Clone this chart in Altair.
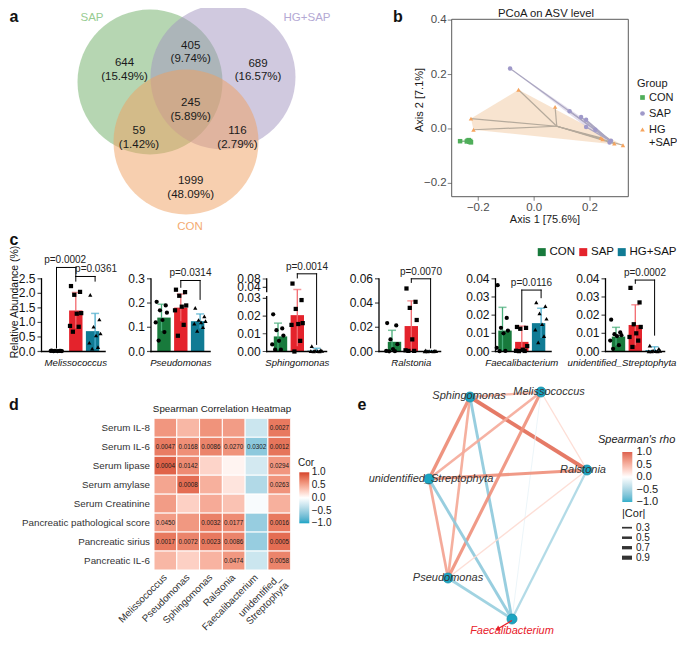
import altair as alt
import pandas as pd

M = 8
W, H = 669, 629
FONT = "Liberation Sans"

# ---------------- panel a : Venn ----------------
venn_sets = ["SAP", "HG+SAP", "CON"]
venn_cx = [150, 223, 186]
venn_cy = [82, 77, 142]
venn_fill = ["#6dad65", "#a193bf", "#ef9f5f"]
venn_label_color = ["#98cc92", "#b4a9d4", "#f4ab72"]
venn_label_x = [92, 307, 190]
venn_label_y = [18, 18, 227]
venn_counts = [644, 405, 689, 245, 59, 116, 1999]
venn_pct = ["15.49%", "9.74%", "16.57%", "5.89%", "1.42%", "2.79%", "48.09%"]
venn_count_x = [124.5, 190.7, 258, 190.7, 139, 237.5, 190.7]
venn_count_y = [63.3, 45.5, 63.7, 103, 131.3, 131.3, 181]

# ---------------- panel b : PCoA ----------------
pc_groups = ["CON", "SAP", "HG+SAP"]
pc_colors = ["#4fae5a", "#9f99c9", "#f6a45e"]
pc_shapes = ["square", "circle", "triangle-up"]
pc_line_colors = ["#6aa870", "#aaa6c0", "#b5aa9c"]
con_x = [-0.265, -0.238, -0.232, -0.229, -0.226, -0.234, -0.241, -0.228]
con_y = [-0.045, -0.043, -0.047, -0.044, -0.049, -0.041, -0.046, -0.048]
sap_x = [-0.086, 0.127, 0.168, 0.186, 0.186, 0.219, 0.275, 0.270]
sap_y = [0.222, 0.065, 0.044, 0.034, 0.007, -0.003, -0.043, -0.050]
hg_x = [-0.056, 0.075, -0.226, -0.217, 0.239, 0.287, 0.318, 0.245]
hg_y = [0.144, 0.081, 0.038, -0.003, -0.033, -0.054, -0.060, -0.038]
cen_x = [-0.236, 0.275, 0.081]
cen_y = [-0.045, -0.045, 0.010]
hg_hull_x = [-0.226, -0.056, 0.318, -0.217]
hg_hull_y = [0.038, 0.144, -0.060, -0.003]
sap_hull_x = [-0.086, 0.168, 0.186, 0.275, 0.270, 0.186]
sap_hull_y = [0.222, 0.044, 0.034, -0.043, -0.050, 0.007]
bx_ticks = [-0.2, 0.0, 0.2]
bx_labels = ["\u22120.2", "0.0", "0.2"]
by_ticks = [-0.2, 0.0, 0.2, 0.4]
by_labels = ["\u22120.2", "0.0", "0.2", "0.4"]

# ---------------- panel c : bar charts ----------------
groups = ["CON", "SAP", "HG+SAP"]
bar_colors = ["#187a3c", "#e4232c", "#107b94"]
err_colors = ["#47ad79", "#f36a6f", "#4aaccc"]
dot_shapes = ["circle", "square", "triangle-up"]
genera = ["Melissococcus", "Pseudomonas", "Sphingomonas", "Ralstonia",
          "Faecalibacterium", "unidentified_Streptophyta"]
xlabel_idx = [1, 1, 1, 1, 1, 0.31]
bar_axis_x = [41.5, 151, 266.7, 379, 495.5, 605.5]
bar_c0 = [56.5, 161.5, 278, 392, 502.5, 616]
STEP = 19.3
BAR_W = 13.4
y_dom = [[0, 2.5], [0, 0.3], [0, 0.03, 0.04, 0.08], [0, 0.06], [0, 0.04], [0, 0.04]]
y_rng = [[351.5, 278.8], [351.5, 278.8], [351.5, 298.3, 287.3, 279.0],
         [351.5, 278.8], [351.5, 278.8], [351.5, 278.8]]
y_ticks = [[0, 0.5, 1.0, 1.5, 2.0, 2.5], [0, 0.1, 0.2, 0.3],
           [0, 0.01, 0.02, 0.03, 0.04, 0.08], [0, 0.02, 0.04, 0.06],
           [0, 0.01, 0.02, 0.03, 0.04], [0, 0.01, 0.02, 0.03, 0.04]]
y_tick_labels = [["0.0", "0.5", "1.0", "1.5", "2.0", "2.5"], ["0.0", "0.1", "0.2", "0.3"],
                 ["0.00", "0.01", "0.02", "0.03", "0.04", "0.08"], ["0.00", "0.02", "0.04", "0.06"],
                 ["0.00", "0.01", "0.02", "0.03", "0.04"], ["0.00", "0.01", "0.02", "0.03", "0.04"]]
axis_breaks = [None, None, (0.0315, 0.036), None, None, None]
means = [[0.02, 1.41, 0.70], [0.140, 0.181, 0.125], [0.0085, 0.0205, 0.0005],
         [0.0080, 0.0210, 0.0003], [0.0115, 0.0053, 0.0156], [0.0082, 0.0146, 0.0007]]
sds = [[0.01, 0.62, 0.61], [0.055, 0.056, 0.030], [0.0075, 0.0175, 0.0013],
       [0.0095, 0.0208, 0.0003], [0.0128, 0.0087, 0.0082], [0.0051, 0.0111, 0.0019]]
pts_mel = [[0.03, 0.02, 0.02, 0.015, 0.01, 0.02, 0.025, 0.01],
           [2.25, 2.05, 1.95, 1.32, 1.30, 0.88, 0.85, 0.68],
           [1.95, 1.10, 0.85, 0.62, 0.55, 0.30, 0.15, 0.10]]
pts_pse = [[0.205, 0.19, 0.17, 0.16, 0.13, 0.12, 0.08, 0.045],
           [0.255, 0.245, 0.23, 0.19, 0.185, 0.17, 0.11, 0.065],
           [0.18, 0.145, 0.13, 0.125, 0.12, 0.115, 0.10, 0.085]]
pts_sph = [[0.021, 0.013, 0.012, 0.009, 0.006, 0.004, 0.001, 0.001],
           [0.058, 0.029, 0.024, 0.016, 0.0155, 0.015, 0.006, 0.0],
           [0.003, 0.0008, 0.0005, 0.0003, 0.0002, 0.0002, 0.0001, 0.0001]]
pts_ral = [[0.0235, 0.0215, 0.010, 0.006, 0.002, 0.0005, 0.0003, 0.0002],
           [0.052, 0.041, 0.036, 0.026, 0.010, 0.001, 0.0005, 0.0005],
           [0.001, 0.0006, 0.0004, 0.0003, 0.0002, 0.0001, 0.0001, 0.0001]]
pts_fae = [[0.0365, 0.0185, 0.013, 0.0115, 0.010, 0.002, 0.0003, 0.0002],
           [0.0135, 0.013, 0.0125, 0.003, 0.001, 0.0004, 0.0003, 0.0002],
           [0.027, 0.025, 0.021, 0.018, 0.015, 0.012, 0.0085, 0.005]]
pts_str = [[0.0175, 0.0105, 0.0095, 0.009, 0.0085, 0.006, 0.0035, 0.0015],
           [0.035, 0.027, 0.015, 0.0135, 0.010, 0.008, 0.006, 0.0025],
           [0.0032, 0.0015, 0.0005, 0.0003, 0.0002, 0.0001, 0.0001, 0.0001]]
points = [pts_mel, pts_pse, pts_sph, pts_ral, pts_fae, pts_str]
jitter = [-0.25, 0.22, -0.08, 0.28, 0.05, -0.30, 0.15, -0.15]
brackets = [
    [(0, 1, 2.89, 0.12, 2.58, "p=0.0002", 0.45), (1, 2, 2.58, 2.42, 2.42, "p=0.0361", 2.05)],
    [(1, 2, 0.293, 0.265, 0.215, "p=0.0314", 1.5)],
    [(1, 2, 0.105, 0.085, 0.004, "p=0.0014", 1.5)],
    [(1, 2, 0.060, 0.057, 0.003, "p=0.0070", 1.5)],
    [(1, 2, 0.0338, 0.0164, 0.0296, "p=0.0116", 1.5)],
    [(1, 2, 0.0393, 0.0375, 0.009, "p=0.0002", 1.5)],
]

# ---------------- panel d : heatmap ----------------
hm_rows = ["Serum IL-8", "Serum IL-6", "Serum lipase", "Serum amylase", "Serum Creatinine",
           "Pancreatic pathological score", "Pancreatic sirius", "Pancreatic IL-6"]
hm_cols = genera
hm_col_labels = ["Melissococcus", "Pseudomonas", "Sphingomonas", "Ralstonia",
                 "Faecalibacterium", "unidentified_\nStreptophyta"]
hm_cor = [[0.58, 0.40, 0.60, 0.55, -0.28, 0.74],
          [0.72, 0.62, 0.68, 0.60, -0.60, 0.76],
          [0.85, 0.64, 0.24, 0.06, -0.24, 0.58],
          [0.50, 0.80, 0.44, 0.15, -0.42, 0.60],
          [0.55, 0.26, 0.47, 0.34, -0.04, 0.44],
          [0.55, 0.57, 0.70, 0.64, -0.55, 0.74],
          [0.74, 0.68, 0.74, 0.68, -0.55, 0.80],
          [0.40, 0.26, 0.42, 0.57, -0.28, 0.68]]
hm_p = [["", "", "", "", "", "0.0027"],
        ["0.0047", "0.0168", "0.0086", "0.0270", "0.0302", "0.0012"],
        ["0.0004", "0.0142", "", "", "", "0.0294"],
        ["", "0.0008", "", "", "", "0.0263"],
        ["", "", "", "", "", ""],
        ["0.0450", "", "0.0032", "0.0177", "", "0.0016"],
        ["0.0017", "0.0072", "0.0023", "0.0086", "", "0.0005"],
        ["", "", "", "0.0474", "", "0.0058"]]
HM_BLUE, HM_RED = "#19a5c6", "#d5432c"
cor_legend_values = [1.0, 0.5, 0.0, -0.5, -1.0]
cor_legend_labels = ["1.0", "0.5", "0.0", "\u22120.5", "\u22121.0"]

# ---------------- panel e : network ----------------
net_nodes = ["Sphingomonas", "Melissococcus", "Ralstonia", "unidentified_Streptophyta",
             "Pseudomonas", "Faecalibacterium"]
node_x = [470, 541, 587, 429, 448, 512]
node_y = [397, 392, 470, 479, 578, 619]
label_x = [469, 549, 583, 431, 448, 512]
label_y = [396, 392, 470, 479, 578, 631]
label_color = ["#333333", "#333333", "#333333", "#333333", "#333333", "#e8202a"]
edge_src = ["Sphingomonas", "Sphingomonas", "Sphingomonas", "Sphingomonas", "Sphingomonas",
            "Melissococcus", "Melissococcus", "Melissococcus", "Melissococcus",
            "unidentified_Streptophyta", "unidentified_Streptophyta", "unidentified_Streptophyta",
            "Pseudomonas", "Pseudomonas", "Ralstonia"]
edge_dst = ["Ralstonia", "unidentified_Streptophyta", "Pseudomonas", "Faecalibacterium", "Melissococcus",
            "unidentified_Streptophyta", "Pseudomonas", "Faecalibacterium", "Ralstonia",
            "Ralstonia", "Pseudomonas", "Faecalibacterium",
            "Ralstonia", "Faecalibacterium", "Faecalibacterium"]
edge_rho = [0.86, 0.70, 0.52, -0.60, 0.45,
            0.50, 0.66, -0.12, 0.22,
            0.66, 0.55, -0.60,
            0.22, -0.55, -0.45]
abscor_legend_values = [0.3, 0.5, 0.7, 0.9]
arrow_x = [512, 497.5]
arrow_y = [620.5, 629.0]
NET_BLUE, NET_RED = "#1aa6c4", "#d9503c"


# ================= helpers =================
def sc(domain, a, b):
    return alt.Scale(domain=list(domain), range=[a - M, b - M], nice=False, zero=False)


def px():
    return sc([0, 685], 0, 685)


def py():
    return sc([0, 645], 0, 645)


layers = []


def page_text(xs, ys, texts, **mk):
    df = pd.DataFrame({"x": xs, "y": ys, "t": texts})
    props = dict(font=FONT, fontSize=12, color="#1a1a1a")
    props.update(mk)
    return alt.Chart(df).mark_text(**props).encode(
        x=alt.X("x:Q", scale=px(), axis=None),
        y=alt.Y("y:Q", scale=py(), axis=None),
        text=alt.Text("t:N"),
    )


def gradient_labels(x_left, y_top, y_bottom, size):
    df = pd.DataFrame({"v": cor_legend_values, "t": cor_legend_labels,
                       "x": [x_left] * len(cor_legend_values)})
    return alt.Chart(df).mark_text(align="left", baseline="middle", font=FONT, fontSize=size,
                                   color="#1a1a1a").encode(
        x=alt.X("x:Q", scale=px(), axis=None),
        y=alt.Y("v:Q", scale=sc([-1, 1], y_bottom, y_top), axis=None),
        text="t:N")


# ================= panel a =================
venn_df = pd.DataFrame({"x": venn_cx, "y": venn_cy, "fill": venn_fill})
layers.append(alt.Chart(venn_df).mark_point(shape="circle", filled=True, size=145 ** 2,
                                            opacity=0.5, strokeWidth=0).encode(
    x=alt.X("x:Q", scale=px(), axis=None), y=alt.Y("y:Q", scale=py(), axis=None),
    color=alt.Color("fill:N", scale=None)))
vl_df = pd.DataFrame({"x": venn_label_x, "y": venn_label_y, "t": venn_sets, "c": venn_label_color})
layers.append(alt.Chart(vl_df).mark_text(font=FONT, fontSize=11.5).encode(
    x=alt.X("x:Q", scale=px(), axis=None), y=alt.Y("y:Q", scale=py(), axis=None),
    text="t:N", color=alt.Color("c:N", scale=None)))
layers.append(page_text(venn_count_x, venn_count_y,
                        [f"{c}\n({p})" for c, p in zip(venn_counts, venn_pct)],
                        fontSize=11.5, lineBreak="\n", lineHeight=13.5))

# ================= panel b =================
def xb():
    return sc([-0.295, 0.337], 451.7, 628.3)


def yb():
    return sc([-0.249, 0.403], 196.7, 19.3)


for hx_, hy_, col in [(hg_hull_x, hg_hull_y, "#f1c9a2"), (sap_hull_x, sap_hull_y, "#c7bedc")]:
    hdf_ = pd.DataFrame({"x": hx_, "y": hy_, "o": list(range(len(hx_)))})
    layers.append(alt.Chart(hdf_).mark_line(interpolate="linear-closed", fill=col, fillOpacity=0.5,
                                            strokeWidth=0).encode(
        x=alt.X("x:Q", scale=xb(), axis=None), y=alt.Y("y:Q", scale=yb(), axis=None),
        order="o:Q"))

pc_rows = []
for gi, (xs_, ys_) in enumerate([(con_x, con_y), (sap_x, sap_y), (hg_x, hg_y)]):
    for xv, yv in zip(xs_, ys_):
        pc_rows.append({"group": pc_groups[gi], "x": xv, "y": yv,
                        "cx": cen_x[gi], "cy": cen_y[gi], "lc": pc_line_colors[gi]})
pc_df = pd.DataFrame(pc_rows)
layers.append(alt.Chart(pc_df).mark_rule(strokeWidth=1.2).encode(
    x=alt.X("x:Q", scale=xb(), axis=None), y=alt.Y("y:Q", scale=yb(), axis=None),
    x2="cx:Q", y2="cy:Q", color=alt.Color("lc:N", scale=None)))
group_legend = dict(title="Group", orient="none", legendX=629, legendY=70,
                    titleFont=FONT, titleFontSize=11, titleFontWeight="normal", titleColor="#1a1a1a",
                    labelFont=FONT, labelFontSize=11, labelColor="#1a1a1a", symbolSize=22,
                    titlePadding=3, rowPadding=4, labelOffset=1, padding=0,
                    labelExpr="datum.label == 'HG+SAP' ? ['HG', '+SAP'] : datum.label")
layers.append(alt.Chart(pc_df).mark_point(filled=True, size=20, opacity=1).encode(
    x=alt.X("x:Q", scale=xb(), axis=None), y=alt.Y("y:Q", scale=yb(), axis=None),
    color=alt.Color("group:N", scale=alt.Scale(domain=pc_groups, range=pc_colors),
                    legend=alt.Legend(**group_legend)),
    shape=alt.Shape("group:N", scale=alt.Scale(domain=pc_groups, range=pc_shapes),
                    legend=alt.Legend(**group_legend))))
frame_df = pd.DataFrame({"x": [-0.295], "x2": [0.337], "y": [-0.249], "y2": [0.403]})
layers.append(alt.Chart(frame_df).mark_rect(fillOpacity=0, stroke="#5a5a5a", strokeWidth=1).encode(
    x=alt.X("x:Q", scale=xb(), axis=None), x2="x2:Q",
    y=alt.Y("y:Q", scale=yb(), axis=None), y2="y2:Q"))
xt_df = pd.DataFrame({"v": bx_ticks, "lab": bx_labels, "b": [-0.249] * len(bx_ticks)})
layers.append(alt.Chart(xt_df).mark_tick(orient="vertical", size=4, thickness=1, color="#4d4d4d",
                                         yOffset=2).encode(
    x=alt.X("v:Q", scale=xb(), axis=None), y=alt.Y("b:Q", scale=yb(), axis=None)))
layers.append(alt.Chart(xt_df).mark_text(baseline="top", dy=5, font=FONT, fontSize=11.5,
                                         color="#4d4d4d").encode(
    x=alt.X("v:Q", scale=xb(), axis=None), y=alt.Y("b:Q", scale=yb(), axis=None), text="lab:N"))
yt_df = pd.DataFrame({"v": by_ticks, "lab": by_labels, "l": [-0.295] * len(by_ticks)})
layers.append(alt.Chart(yt_df).mark_tick(orient="horizontal", size=4, thickness=1, color="#4d4d4d",
                                         xOffset=-2).encode(
    x=alt.X("l:Q", scale=xb(), axis=None), y=alt.Y("v:Q", scale=yb(), axis=None)))
layers.append(alt.Chart(yt_df).mark_text(align="right", baseline="middle", dx=-5, font=FONT,
                                         fontSize=11.5, color="#4d4d4d").encode(
    x=alt.X("l:Q", scale=xb(), axis=None), y=alt.Y("v:Q", scale=yb(), axis=None), text="lab:N"))
layers.append(page_text([546], [13.5], ["PCoA on ASV level"], fontSize=11.3))
layers.append(page_text([545], [220], ["Axis 1 [75.6%]"], fontSize=11))
layers.append(page_text([420], [100], ["Axis 2 [7.1%]"], fontSize=11, angle=270))

# ================= panel c =================
for k in range(6):
    c0 = bar_c0[k]
    xsc = lambda: sc([-1, 3], c0 - STEP, c0 + 3 * STEP)
    ysc = lambda: alt.Scale(domain=y_dom[k], range=[v - M for v in y_rng[k]], nice=False, zero=False)
    ax = (bar_axis_x[k] - c0) / STEP
    end = 2 + 10 / STEP
    top = y_dom[k][-1]

    bdf = pd.DataFrame({"idx": [0, 1, 2], "mean": means[k], "base": [0, 0, 0],
                        "group": groups, "col": bar_colors})
    if k == 5:
        cenc = alt.Color("group:N", scale=alt.Scale(domain=groups, range=bar_colors),
                         legend=alt.Legend(title=None, orient="none", direction="horizontal",
                                           legendX=528, legendY=238, symbolType="square",
                                           symbolSize=64, symbolStrokeWidth=0, labelFont=FONT,
                                           labelFontSize=11.5, labelColor="#111111", labelOffset=2,
                                           columnPadding=1.5, padding=0))
    else:
        cenc = alt.Color("col:N", scale=None)
    layers.append(alt.Chart(bdf).mark_bar(size=BAR_W).encode(
        x=alt.X("idx:Q", scale=xsc(), axis=None), y=alt.Y("mean:Q", scale=ysc(), axis=None),
        y2="base:Q", color=cenc))

    edf = pd.DataFrame({"idx": [0, 1, 2],
                        "lo": [max(m - s, 0) for m, s in zip(means[k], sds[k])],
                        "hi": [m + s for m, s in zip(means[k], sds[k])],
                        "ecol": err_colors})
    layers.append(alt.Chart(edf).mark_rule(strokeWidth=1.3).encode(
        x=alt.X("idx:Q", scale=xsc(), axis=None), y=alt.Y("lo:Q", scale=ysc(), axis=None),
        y2="hi:Q", color=alt.Color("ecol:N", scale=None)))
    layers.append(alt.Chart(edf).mark_tick(orient="horizontal", size=8, thickness=1.5).encode(
        x=alt.X("idx:Q", scale=xsc(), axis=None), y=alt.Y("hi:Q", scale=ysc(), axis=None),
        color=alt.Color("ecol:N", scale=None)))

    prow = []
    for g in range(3):
        for j, v in enumerate(points[k][g]):
            prow.append({"x": g + jitter[j], "v": v, "group": groups[g]})
    pdf = pd.DataFrame(prow)
    layers.append(alt.Chart(pdf).mark_point(filled=True, size=18, color="#000000", opacity=1).encode(
        x=alt.X("x:Q", scale=xsc(), axis=None), y=alt.Y("v:Q", scale=ysc(), axis=None),
        shape=alt.Shape("group:N", scale=alt.Scale(domain=groups, range=dot_shapes), legend=None)))

    seg = []
    if axis_breaks[k] is None:
        seg.append((ax, ax, 0, top, 1.3))
    else:
        b0, b1 = axis_breaks[k]
        seg.append((ax, ax, 0, b0, 1.3))
        seg.append((ax, ax, b1, top, 1.3))
    seg.append((ax, end, 0, 0, 1.3))
    for (i1, i2, yt, yl, yr, _, _) in brackets[k]:
        seg.append((i1, i2, yt, yt, 1.0))
        seg.append((i1, i1, yl, yt, 1.0))
        seg.append((i2, i2, yr, yt, 1.0))
    sdf = pd.DataFrame(seg, columns=["x", "x2", "y", "y2", "w"])
    layers.append(alt.Chart(sdf).mark_rule(color="#000000", strokeCap="square").encode(
        x=alt.X("x:Q", scale=xsc(), axis=None), x2="x2:Q",
        y=alt.Y("y:Q", scale=ysc(), axis=None), y2="y2:Q",
        strokeWidth=alt.StrokeWidth("w:Q", scale=None)))

    tdf = pd.DataFrame({"ax": [ax] * len(y_ticks[k]), "v": y_ticks[k], "lab": y_tick_labels[k]})
    layers.append(alt.Chart(tdf).mark_tick(orient="horizontal", size=4, thickness=1.2, xOffset=-2,
                                           color="#000000").encode(
        x=alt.X("ax:Q", scale=xsc(), axis=None), y=alt.Y("v:Q", scale=ysc(), axis=None)))
    layers.append(alt.Chart(tdf).mark_text(align="right", baseline="middle", dx=-6, font=FONT,
                                           fontSize=12, color="#111111").encode(
        x=alt.X("ax:Q", scale=xsc(), axis=None), y=alt.Y("v:Q", scale=ysc(), axis=None),
        text="lab:N"))

    ldf = pd.DataFrame({"x": [xlabel_idx[k]], "y": [0], "t": [genera[k]]})
    layers.append(alt.Chart(ldf).mark_text(baseline="top", dy=6.5, font=FONT, fontSize=9.6,
                                           fontStyle="italic", color="#111111").encode(
        x=alt.X("x:Q", scale=xsc(), axis=None), y=alt.Y("y:Q", scale=ysc(), axis=None), text="t:N"))

    qdf = pd.DataFrame({"x": [b[6] for b in brackets[k]], "y": [b[2] for b in brackets[k]],
                        "t": [b[5] for b in brackets[k]]})
    layers.append(alt.Chart(qdf).mark_text(baseline="bottom", dy=-2, font=FONT, fontSize=10,
                                           color="#222222").encode(
        x=alt.X("x:Q", scale=xsc(), axis=None), y=alt.Y("y:Q", scale=ysc(), axis=None), text="t:N"))

layers.append(page_text([15], [302], ["Relative Abundance (%)"], fontSize=10.5, angle=270,
                        color="#111111"))

# ================= panel d =================
def hx():
    return alt.Scale(type="band", domain=hm_cols, range=[154 - M, 290.7 - M],
                     paddingInner=0, paddingOuter=0)


def hy():
    return alt.Scale(type="band", domain=hm_rows, range=[418.3 - M, 570 - M],
                     paddingInner=0, paddingOuter=0)


hrow = []
for ri, r in enumerate(hm_rows):
    for ci, c in enumerate(hm_cols):
        hrow.append({"row": r, "col": c, "cor": hm_cor[ri][ci], "p": hm_p[ri][ci]})
hdf = pd.DataFrame(hrow)
layers.append(alt.Chart(hdf).mark_rect(stroke="#ffffff", strokeWidth=1).encode(
    x=alt.X("col:N", scale=hx(), axis=None), y=alt.Y("row:N", scale=hy(), axis=None),
    color=alt.Color("cor:Q", scale=alt.Scale(domain=[-1, 0, 1], range=[HM_BLUE, "#ffffff", HM_RED],
                                             interpolate="lab"),
                    legend=alt.Legend(title=None, orient="none", legendX=291.3, legendY=464.3,
                                      direction="vertical", gradientLength=51, gradientThickness=10,
                                      labelExpr="''", gradientStrokeWidth=0, padding=0))))
layers.append(gradient_labels(311.7, 472.3, 523.3, 10))
layers.append(alt.Chart(hdf).mark_text(font=FONT, fontSize=6.3, color="#1a1a1a").encode(
    x=alt.X("col:N", scale=hx(), axis=None), y=alt.Y("row:N", scale=hy(), axis=None), text="p:N"))
rl_df = pd.DataFrame({"row": hm_rows})
layers.append(alt.Chart(rl_df).mark_text(align="right", baseline="middle", font=FONT, fontSize=9.8,
                                         color="#333333").encode(
    y=alt.Y("row:N", scale=hy(), axis=None), x=alt.value(150 - M), text="row:N"))
cl_df = pd.DataFrame({"col": hm_cols, "lab": hm_col_labels})
layers.append(alt.Chart(cl_df).mark_text(angle=315, align="right", baseline="middle", font=FONT,
                                         fontSize=9.8, color="#333333", lineBreak="\n",
                                         lineHeight=11).encode(
    x=alt.X("col:N", scale=hx(), axis=None), y=alt.value(576 - M), text="lab:N"))
layers.append(page_text([222], [409], ["Spearman Correlation Heatmap"], fontSize=9.8))
layers.append(page_text([298], [463], ["Cor"], fontSize=10, align="left"))

# ================= panel e =================
def wscale():
    return alt.Scale(domain=[0, 1], range=[0.5, 4.5])


pos = {n: (x, y) for n, x, y in zip(net_nodes, node_x, node_y)}
edf = pd.DataFrame({"x": [pos[s][0] for s in edge_src], "y": [pos[s][1] for s in edge_src],
                    "x2": [pos[d][0] for d in edge_dst], "y2": [pos[d][1] for d in edge_dst],
                    "rho": edge_rho, "a": [abs(r) for r in edge_rho]})
layers.append(alt.Chart(edf).mark_rule(opacity=0.9).encode(
    x=alt.X("x:Q", scale=px(), axis=None), y=alt.Y("y:Q", scale=py(), axis=None),
    x2="x2:Q", y2="y2:Q",
    color=alt.Color("rho:Q", scale=alt.Scale(domain=[-1, 0, 1], range=[NET_BLUE, "#ffffff", NET_RED],
                                             interpolate="lab"),
                    legend=alt.Legend(title=None, orient="none", legendX=614.3, legendY=444,
                                      direction="vertical", gradientLength=50, gradientThickness=10,
                                      labelExpr="''", gradientStrokeWidth=0, padding=0)),
    strokeWidth=alt.StrokeWidth("a:Q", scale=wscale(), legend=None)))
layers.append(gradient_labels(636.5, 452, 502, 11))

# |Cor| legend keys drawn with the same width scale
kdf = pd.DataFrame({"a": abscor_legend_values, "row": list(range(len(abscor_legend_values))),
                    "x": [622] * 4, "x2": [632] * 4, "t": [f"{v:.1f}" for v in abscor_legend_values]})
layers.append(alt.Chart(kdf).mark_rule(color="#333333").encode(
    x=alt.X("x:Q", scale=px(), axis=None), x2="x2:Q",
    y=alt.Y("row:Q", scale=sc([0, 3], 527.7, 557.7), axis=None),
    strokeWidth=alt.StrokeWidth("a:Q", scale=wscale(), legend=None)))
layers.append(alt.Chart(kdf).mark_text(align="left", baseline="middle", dx=4, font=FONT, fontSize=10,
                                       color="#1a1a1a").encode(
    x=alt.X("x2:Q", scale=px(), axis=None),
    y=alt.Y("row:Q", scale=sc([0, 3], 527.7, 557.7), axis=None), text="t:N"))

ndf = pd.DataFrame({"x": node_x, "y": node_y})
layers.append(alt.Chart(ndf).mark_point(shape="circle", filled=True, size=100, color="#1ba5c2",
                                        stroke="#168fa9", strokeWidth=0.8, opacity=1).encode(
    x=alt.X("x:Q", scale=px(), axis=None), y=alt.Y("y:Q", scale=py(), axis=None)))
adf = pd.DataFrame({"x": arrow_x, "y": arrow_y, "o": [0, 1]})
layers.append(alt.Chart(adf).mark_line(color="#e8202a", strokeWidth=1.3).encode(
    x=alt.X("x:Q", scale=px(), axis=None), y=alt.Y("y:Q", scale=py(), axis=None), order="o:Q"))
layers.append(alt.Chart(adf.iloc[[1]]).mark_point(shape="triangle-up", angle=239, size=30, filled=True,
                                                  color="#e8202a", opacity=1).encode(
    x=alt.X("x:Q", scale=px(), axis=None), y=alt.Y("y:Q", scale=py(), axis=None)))
nl_df = pd.DataFrame({"x": label_x, "y": label_y, "t": net_nodes, "c": label_color})
layers.append(alt.Chart(nl_df).mark_text(font=FONT, fontSize=11, fontStyle="italic").encode(
    x=alt.X("x:Q", scale=px(), axis=None), y=alt.Y("y:Q", scale=py(), axis=None),
    text="t:N", color=alt.Color("c:N", scale=None)))
layers.append(page_text([598], [440], ["Spearman's rho"], fontSize=11, fontStyle="italic", align="left"))
layers.append(page_text([622], [514], ["|Cor|"], fontSize=11, align="left"))

# ================= panel letters =================
layers.append(page_text([14, 398, 14, 14, 362], [17, 17, 240, 405, 405], ["a", "b", "c", "d", "e"],
                        fontSize=16, fontWeight="bold", color="#111111"))

chart = alt.layer(*layers).resolve_scale(
    x="independent", y="independent", color="independent", shape="independent",
    strokeWidth="independent").resolve_legend(
    color="independent", shape="independent", strokeWidth="independent").properties(
    width=W, height=H, padding=0, autosize=alt.AutoSizeParams(type="none")).configure_view(stroke=None)

chart.save("out.html", embed_options={"renderer": "svg", "actions": False})
